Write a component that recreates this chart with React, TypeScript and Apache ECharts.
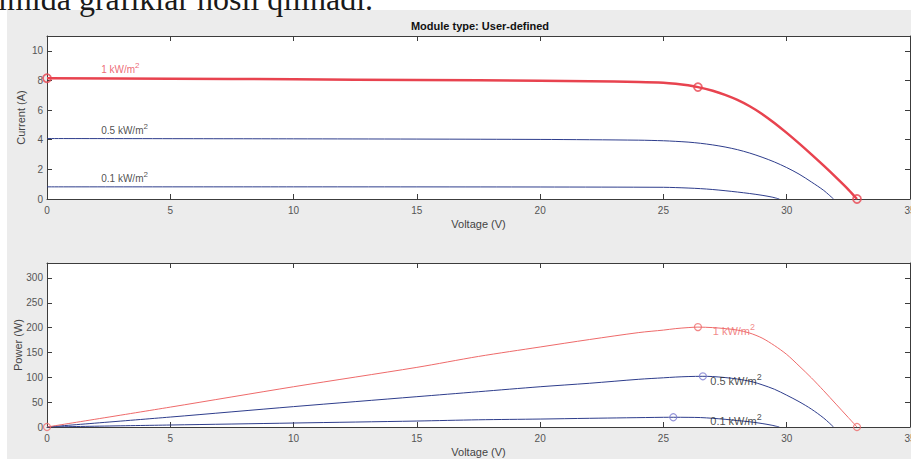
import React, { useEffect, useRef } from 'react';
import * as echarts from 'echarts';

// ---------- data ----------
const voltageTicks = [0, 5, 10, 15, 20, 25, 30, 35];
const currentTicks = [0, 2, 4, 6, 8, 10];
const powerTicks = [0, 50, 100, 150, 200, 250, 300];

// I-V curves
const ivRedV = [0, 5, 10, 15, 20, 22, 24, 25, 25.5, 26, 26.4, 27, 27.5, 28, 28.5, 29, 29.5, 30, 30.5, 31, 31.5, 32, 32.5, 32.85];
const ivRedI = [8.15, 8.12, 8.08, 8.03, 7.98, 7.95, 7.9, 7.85, 7.78, 7.67, 7.55, 7.3, 7.03, 6.69, 6.26, 5.74, 5.13, 4.46, 3.75, 3.01, 2.25, 1.46, 0.64, 0];
const ivHalfV = [0, 10, 20, 24, 25, 25.5, 26, 26.5, 27, 27.5, 28, 28.5, 29, 29.5, 30, 30.5, 31, 31.5, 31.9];
const ivHalfI = [4.08, 4.06, 4.02, 3.97, 3.93, 3.89, 3.84, 3.76, 3.65, 3.51, 3.33, 3.1, 2.82, 2.5, 2.12, 1.68, 1.15, 0.58, 0];
const ivTenthV = [0, 10, 20, 25, 25.5, 26, 26.5, 27, 27.5, 28, 28.5, 29, 29.4, 29.7];
const ivTenthI = [0.82, 0.82, 0.81, 0.79, 0.77, 0.74, 0.7, 0.64, 0.56, 0.47, 0.37, 0.25, 0.13, 0];
const ivRedMarkV = [0, 26.4, 32.85];
const ivRedMarkI = [8.15, 7.55, 0];

// P-V curves
const pvRedV = [0, 5, 10, 15, 17.5, 20, 22, 24, 25, 25.5, 26, 26.4, 27, 27.5, 28, 28.5, 29, 29.5, 30, 30.5, 31, 31.5, 32, 32.5, 32.85];
const pvRedP = [0, 40, 81, 120, 142, 161, 176, 190, 195, 198, 200, 201, 200, 198, 195, 189, 179, 164, 146, 123, 99, 73, 46, 19, 0];
const pvHalfV = [0, 5, 10, 15, 17.5, 20, 22, 24, 25, 25.5, 26, 26.6, 27, 27.5, 28, 28.6, 29, 29.5, 30, 30.5, 31, 31.5, 31.9];
const pvHalfP = [0, 20, 41, 61, 71, 81, 88, 96, 99, 100.5, 101.5, 102, 101.5, 99.5, 96.5, 91, 85, 76, 64, 51, 36, 18, 0];
const pvTenthV = [0, 5, 10, 15, 17.5, 20, 22, 25, 25.4, 26, 26.5, 27, 27.5, 28, 28.5, 29, 29.4, 29.7];
const pvTenthP = [0, 4, 8, 12, 14.5, 16, 17.5, 19.5, 19.6, 19.4, 19, 17.5, 15.5, 13, 10.5, 7, 3.5, 0];
const pvRedMarkV = [0, 26.4, 32.85];
const pvRedMarkP = [0, 201, 0];
const pvHalfMarkV = [26.6];
const pvHalfMarkP = [102];
const pvTenthMarkV = [25.4];
const pvTenthMarkP = [19.6];

// curve labels (value text, superscript)
const irradianceLabels = ['1 kW/m', '0.5 kW/m', '0.1 kW/m'];
const labelSup = '2';
const ivLabelV = [2.2, 2.2, 2.2];
const ivLabelI = [8.87, 4.73, 1.47];
const pvLabelV = [27.0, 26.9, 26.9];
const pvLabelP = [197, 95, 15];

const titleText = 'Module type: User-defined';
const headerText = 'imida grafiklar hosil qilinadi.';

const zip = (a: number[], b: number[]) => a.map((v, i) => [v, b[i]]);

const RED = '#e8434f';
const RED_THIN = '#ee6a6a';
const BLUE = '#2e3d8c';
const BLUE_MARK = '#7b7bcf';
const AXIS = '#3c3c3c';
const TICKLBL = '#555555';
const FONT = '"Liberation Sans", Arial, sans-serif';

export default function App() {
  const ref = useRef<HTMLDivElement>(null);
  useEffect(() => {
    if (!ref.current) return;
    document.body.style.margin = '0';
    document.body.style.overflow = 'hidden';
    const chart = echarts.init(ref.current, undefined, { renderer: 'svg' });

    const xBase = (grid: number, top: boolean) => ({
      type: 'value' as const,
      gridIndex: grid,
      position: top ? 'top' : 'bottom',
      min: 0,
      max: 35,
      interval: 5,
      name: top ? '' : 'Voltage (V)',
      nameLocation: 'middle' as const,
      nameGap: 19,
      nameMoveOverlap: false,
      nameTextStyle: { fontFamily: FONT, fontSize: 11, color: '#444' },
      axisLine: { show: true, onZero: false, lineStyle: { color: AXIS, width: 1 } },
      axisTick: { show: true, inside: true, length: 5, lineStyle: { color: AXIS } },
      axisLabel: {
        show: !top,
        margin: 6,
        fontFamily: FONT,
        fontSize: 10,
        color: TICKLBL,
        formatter: (v: number) => (voltageTicks.includes(v) ? String(v) : ''),
      },
      splitLine: { show: false },
    });

    const yBase = (grid: number, right: boolean, max: number, interval: number, ticks: number[], name: string, gap: number) => ({
      type: 'value' as const,
      gridIndex: grid,
      position: right ? 'right' : 'left',
      min: 0,
      max,
      interval,
      name: right ? '' : name,
      nameLocation: 'middle' as const,
      nameGap: gap,
      nameRotate: 90,
      nameMoveOverlap: false,
      nameTextStyle: { fontFamily: FONT, fontSize: 11, color: '#444' },
      axisLine: { show: true, onZero: false, lineStyle: { color: AXIS, width: 1 } },
      axisTick: { show: true, inside: true, length: 5, lineStyle: { color: AXIS } },
      axisLabel: {
        show: !right,
        margin: 4,
        fontFamily: FONT,
        fontSize: 10,
        color: TICKLBL,
        formatter: (v: number) => (ticks.includes(v) ? String(v) : ''),
      },
      splitLine: { show: false },
    });

    const line = (name: string, data: number[][], color: string, width: number, xi: number, yi: number) => ({
      name,
      type: 'line' as const,
      xAxisIndex: xi,
      yAxisIndex: yi,
      data,
      smooth: 0.3,
      showSymbol: false,
      symbol: 'none',
      lineStyle: { color, width },
      z: 3,
    });

    const marks = (data: number[][], color: string, size: number, xi: number, yi: number, width = 1.2) => ({
      type: 'scatter' as const,
      xAxisIndex: xi,
      yAxisIndex: yi,
      data,
      symbol: 'circle',
      symbolSize: size,
      itemStyle: { color: 'rgba(0,0,0,0)', borderColor: color, borderWidth: width },
      z: 4,
    });

    const labels = (vs: number[], ys: number[], colors: string[], size: number, xi: number, yi: number) => ({
      type: 'scatter' as const,
      xAxisIndex: xi,
      yAxisIndex: yi,
      symbolSize: 0,
      data: vs.map((v, i) => ({
        value: [v, ys[i]],
        label: {
          show: true,
          position: 'right',
          distance: 0,
          formatter: `{a|${irradianceLabels[i]}}{s|${labelSup}}`,
          rich: {
            a: { fontFamily: FONT, fontSize: size, color: colors[i], verticalAlign: 'bottom' },
            s: { fontFamily: FONT, fontSize: size - 2, color: colors[i], verticalAlign: 'bottom', padding: [0, 0, 5, 0] },
          },
        },
      })),
      z: 5,
    });

    chart.setOption({
      animation: false,
      backgroundColor: '#ffffff',
      title: {
        text: titleText,
        left: 480,
        top: 20,
        padding: 0,
        textAlign: 'center',
        textStyle: { fontFamily: FONT, fontSize: 11, fontWeight: 'bold', color: '#111' },
      },
      graphic: [
        {
          type: 'rect',
          z: -10,
          silent: true,
          shape: { x: 7, y: 10, width: 904, height: 449 },
          style: { fill: '#ececec' },
        },
        {
          type: 'text',
          z: 100,
          x: -2,
          y: 15,
          style: {
            text: headerText,
            font: '32px "Liberation Serif", serif',
            fill: '#1a1a1a',
            verticalAlign: 'bottom',
          },
        },
      ],
      grid: [
        { left: 47, top: 36, width: 863, height: 163, show: true, backgroundColor: '#ffffff', borderWidth: 0, outerBoundsMode: 'none', containLabel: false },
        { left: 47, top: 263, width: 863, height: 164, show: true, backgroundColor: '#ffffff', borderWidth: 0, outerBoundsMode: 'none', containLabel: false },
      ],
      xAxis: [xBase(0, false), xBase(0, true), xBase(1, false), xBase(1, true)],
      yAxis: [
        yBase(0, false, 11, 2, currentTicks, 'Current (A)', 21),
        yBase(0, true, 11, 2, currentTicks, '', 21),
        yBase(1, false, 330, 50, powerTicks, 'Power (W)', 24),
        yBase(1, true, 330, 50, powerTicks, '', 24),
      ],
      series: [
        line('0.1 kW/m² I-V', zip(ivTenthV, ivTenthI), BLUE, 1, 0, 0),
        line('0.5 kW/m² I-V', zip(ivHalfV, ivHalfI), BLUE, 1, 0, 0),
        line('1 kW/m² I-V', zip(ivRedV, ivRedI), RED, 2.5, 0, 0),
        marks(zip(ivRedMarkV, ivRedMarkI), RED, 8, 0, 0, 1.8),
        labels(ivLabelV, ivLabelI, [RED, '#222', '#222'], 10, 0, 0),
        line('0.1 kW/m² P-V', zip(pvTenthV, pvTenthP), BLUE, 1, 2, 2),
        line('0.5 kW/m² P-V', zip(pvHalfV, pvHalfP), BLUE, 1, 2, 2),
        line('1 kW/m² P-V', zip(pvRedV, pvRedP), RED_THIN, 1, 2, 2),
        marks(zip(pvRedMarkV, pvRedMarkP), RED_THIN, 7, 2, 2),
        marks(zip(pvHalfMarkV, pvHalfMarkP), BLUE_MARK, 7, 2, 2),
        marks(zip(pvTenthMarkV, pvTenthMarkP), BLUE_MARK, 7, 2, 2),
        labels(pvLabelV, pvLabelP, [RED_THIN, '#222', '#222'], 11, 2, 2),
      ],
    });
    return () => chart.dispose();
  }, []);
  return <div ref={ref} style={{ width: 911, height: 459 }} />;
}
